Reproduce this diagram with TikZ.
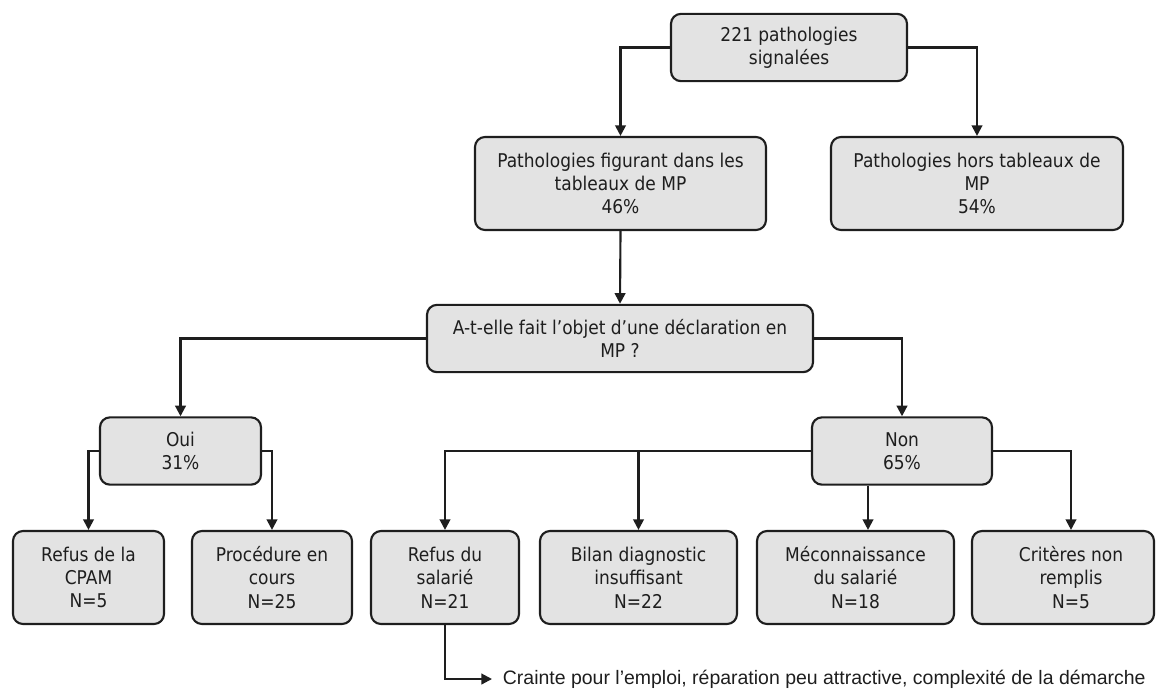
\documentclass[tikz,border=0pt]{standalone}
\usepackage{fontspec}
\setmainfont{DejaVu Sans}[FakeStretch=0.9]
\newfontfamily\arialfont{Liberation Sans}
\usetikzlibrary{arrows.meta,calc}
\definecolor{boxfill}{HTML}{E3E3E3}
\definecolor{ink}{HTML}{1E1E1E}
\begin{document}
\begin{tikzpicture}[x=0.75pt,y=-0.75pt,
  box/.style={draw=ink, line width=1.6pt, fill=boxfill, rounded corners=7.5pt,
    align=center, inner sep=0pt, text=ink,
    font=\fontsize{14.2pt}{17.5pt}\selectfont},
  tall/.style={box, minimum height=69.75pt},
  short/.style={box, minimum height=50.5pt},
  label/.style={inner sep=0pt, text=ink, align=center,
    font=\fontsize{14.2pt}{17.5pt}\selectfont},
  conn/.style={draw=ink, line width=1.6pt, -{Triangle[length=8pt,width=8pt]}}]
\useasboundingbox (0,0) rectangle (1156,689);

\node[short, minimum width=177pt] (top) at (789,47.5) {221 pathologies\\signalées};
\node[tall, minimum width=218.25pt] (fig) at (620.5,183.5) {Pathologies figurant dans les\\tableaux de MP\\46\%};
\node[tall, minimum width=219pt] (hors) at (977,183.5) {Pathologies hors tableaux de\\MP\\54\%};
\node[short, minimum width=289.5pt] (q) at (620,338.5) {A-t-elle fait l’objet d’une déclaration en\\MP ?};
\node[short, minimum width=120.75pt] (oui) at (180.5,451) {Oui\\31\%};
\node[short, minimum width=135pt] (non) at (902,451) {Non\\65\%};
\node[tall, minimum width=113.25pt] (cpam) at (88.5,577.5) {Refus de la\\CPAM\\N=5};
\node[tall, minimum width=120pt] (proc) at (272,577.5) {Procédure en\\cours\\N=25};
\node[tall, minimum width=111pt] (refus) at (445,577.5) {Refus du\\salarié\\N=21};
\node[tall, minimum width=147.75pt] (bilan) at (638.5,577.5) {Bilan diagnostic\\insuffisant\\N=22};
\node[tall, minimum width=147.75pt] (mecon) at (855.5,577.5) {Méconnaissance\\du salarié\\N=18};
\node[tall, minimum width=136.5pt] (crit) at (1063,577.5) {};
\node[label] (critT) at (1071,577.5) {Critères non\\remplis\\N=5};
\node[anchor=west, inner sep=0pt, inner xsep=8pt, text=ink,
  font=\arialfont\fontsize{14.6pt}{17pt}\selectfont] (crainte) at (492,679)
  {Crainte pour l’emploi, réparation peu attractive, complexité de la démarche};

\draw[conn] (top.west) -| (fig.north);
\draw[conn] (top.east) -| (hors.north);
\draw[conn] (fig.south) -- (q.north);
\draw[conn] (q.west) -| (oui.north);
\draw[conn] (q.east) -| (non.north);
\draw[conn] (oui.west) -| (cpam.north);
\draw[conn] (oui.east) -| (proc.north);
\draw[conn] (non.west) -| (refus.north);
\draw[conn] (non.west) -| (bilan.north);
\draw[conn] (non.east) -| (critT |- crit.north);
\draw[conn] ($(non.south)+(-34,0)$) -- ($(mecon.north)+(12.5,0)$);
\draw[conn] (refus.south) |- (crainte.west);
\end{tikzpicture}
\end{document}
